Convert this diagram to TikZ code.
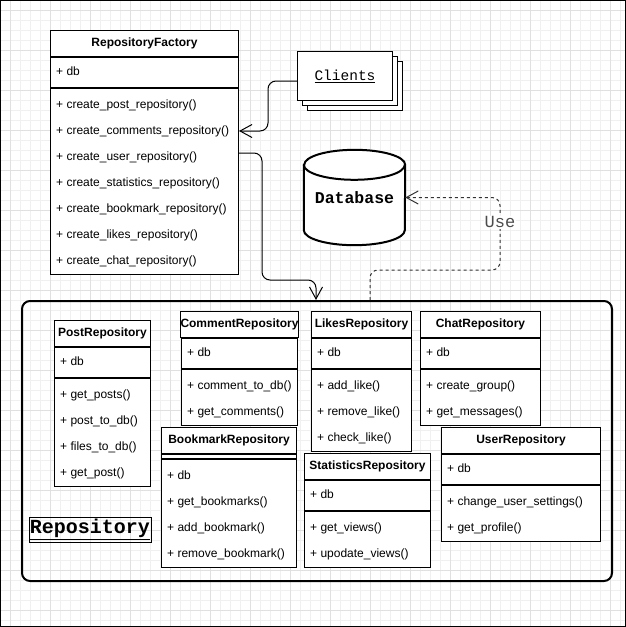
\documentclass[tikz,border=0pt]{standalone}
\usepackage{fontspec}
\setmainfont{Liberation Sans}
\newfontfamily\monofont{Liberation Mono}
\usetikzlibrary{arrows.meta,calc}

% #1 name, #2 left, #3 top, #4 width, #5 title, #6 field, #7 methods
\newcommand\umlclass[7]{%
  \node[clshead,minimum width=#4,anchor=north west] (#1) at (#2,#3) {#5};
  \if\relax\detokenize{#6}\relax
    \node[clspart,minimum width=#4,minimum height=4,anchor=north] (#1-a) at (#1.south) {};
  \else
    \node[clspart,minimum width=#4,minimum height=30,anchor=north] (#1-a) at (#1.south) {};
    \node[member] (#1-f) at ([xshift=6pt]#1-a.west) {#6};
  \fi
  \foreach \m [count=\i] in {#7} {\xdef\nrows{\i}}
  \node[clspart,minimum width=#4,minimum height=26*\nrows+4,anchor=north] (#1-m) at (#1-a.south) {};
  \foreach \m [count=\i] in {#7}
    \node[member] (#1-r\i) at ($(#1-m.north west)+(6,17+26*\i-26)$) {\m};
}

\begin{document}
\begin{tikzpicture}[x=1pt,y=-1pt,
  minor/.style={draw=gray!12,line width=1pt},
  major/.style={draw=gray!24,line width=1pt},
  clshead/.style={draw,fill=white,line width=1pt,minimum height=26,inner sep=0pt,
                  text height=8.6pt,text depth=2.6pt,
                  font=\fontsize{12}{14}\selectfont\bfseries},
  clspart/.style={draw,fill=white,line width=1pt,inner sep=0pt},
  member/.style={anchor=west,inner sep=0pt,text height=8.6pt,text depth=2.6pt,
                 font=\fontsize{12}{14}\selectfont},
  package/.style={draw,line width=2pt,rounded corners=8pt,
                  minimum width=590,minimum height=280},
  stack/.style={draw,fill=white,line width=1pt},
  link/.style={draw,line width=1pt,rounded corners=8pt,
               -{Straight Barb[length=12pt,width=13pt,line width=1pt]}},
  uselink/.style={link,draw=black!80,dash pattern=on 3pt off 3pt},
  uselbl/.style={fill=white,inner sep=1pt,text=black!70,
                 font=\monofont\fontsize{17}{17}\selectfont}]
  \useasboundingbox (0,0) rectangle (626,627);

  % background grid
  \foreach \g in {0,10,...,620} {
    \draw[minor] (\g,0) -- (\g,627);
    \draw[minor] (0,\g) -- (626,\g);
  }
  \foreach \g in {10,50,...,610} {
    \draw[major] (\g,0) -- (\g,627);
    \draw[major] (0,\g) -- (626,\g);
  }
  \draw[line width=2pt] (0,0) rectangle (626,627);

  % repository package
  \node[package,anchor=north west] (repo) at (21,300) {};
  \node[draw,line width=1pt,inner sep=0pt,minimum width=122,minimum height=25,
        font=\monofont\bfseries\fontsize{20}{20}\selectfont]
        (repolbl) at (90,529.5) {\underline{Repository}};

  % classes
  \umlclass{fac}{50}{30}{188}{RepositoryFactory}{+ db}
    {+ create\_post\_repository(),+ create\_comments\_repository(),
     + create\_user\_repository(),+ create\_statistics\_repository(),
     + create\_bookmark\_repository(),+ create\_likes\_repository(),
     + create\_chat\_repository()}
  \umlclass{post}{54}{320}{96}{PostRepository}{+ db}
    {+ get\_posts(),+ post\_to\_db(),+ files\_to\_db(),+ get\_post()}
  \umlclass{comment}{180}{311}{116}{CommentRepository}{+ db}
    {+ comment\_to\_db(),+ get\_comments()}
  \umlclass{likes}{311}{311}{100}{LikesRepository}{+ db}
    {+ add\_like(),+ remove\_like(),+ check\_like()}
  \umlclass{chat}{420}{311}{120}{ChatRepository}{+ db}
    {+ create\_group(),+ get\_messages()}
  \umlclass{bookmark}{161}{427}{135}{BookmarkRepository}{}
    {+ db,+ get\_bookmarks(),+ add\_bookmark(),+ remove\_bookmark()}
  \umlclass{stats}{304}{453}{126}{StatisticsRepository}{+ db}
    {+ get\_views(),+ upodate\_views()}
  \umlclass{user}{441}{427}{159}{UserRepository}{+ db}
    {+ change\_user\_settings(),+ get\_profile()}

  % clients
  \draw[stack] (307,61) rectangle (402,110);
  \draw[stack] (302,56) rectangle (397,105);
  \node[stack,anchor=north west,minimum width=95,minimum height=49,
        font=\monofont\fontsize{14.5}{15}\selectfont]
        (clients) at (297,51) {\underline{Clients}};

  % database
  \node[minimum width=101,minimum height=95] (db) at (354.5,197.5) {};
  \draw[line width=2pt,fill=white] ([yshift=-15pt]db.north west)
    -- ([yshift=15pt]db.south west)
    arc[start angle=180,end angle=360,x radius=50.5pt,y radius=15pt]
    -- ([yshift=-15pt]db.north east)
    arc[start angle=0,end angle=180,x radius=50.5pt,y radius=15pt] -- cycle;
  \draw[line width=2pt] ([yshift=-15pt]db.north west)
    arc[start angle=180,end angle=360,x radius=50.5pt,y radius=15pt];
  \node[font=\monofont\bfseries\fontsize{16.5}{17}\selectfont]
        (dbname) at (db) {Database};

  % connectors
  \draw[link] ([yshift=-5pt]clients.west) -- ++(-29,0) |- (fac-m.east |- fac-r2);
  \draw[link] ([yshift=4pt]fac-m.east |- fac-r3) -- ++(23,0)
    |- ($(repo.north west)+(295,-20)$) -- ($(repo.north west)+(295,0)$);
  \draw[uselink] ($(repo.north west)+(349,0)$) |- ++(130,-30)
    |- (db.east) node[uselbl,pos=0.33] (use) {Use};
\end{tikzpicture}
\end{document}
